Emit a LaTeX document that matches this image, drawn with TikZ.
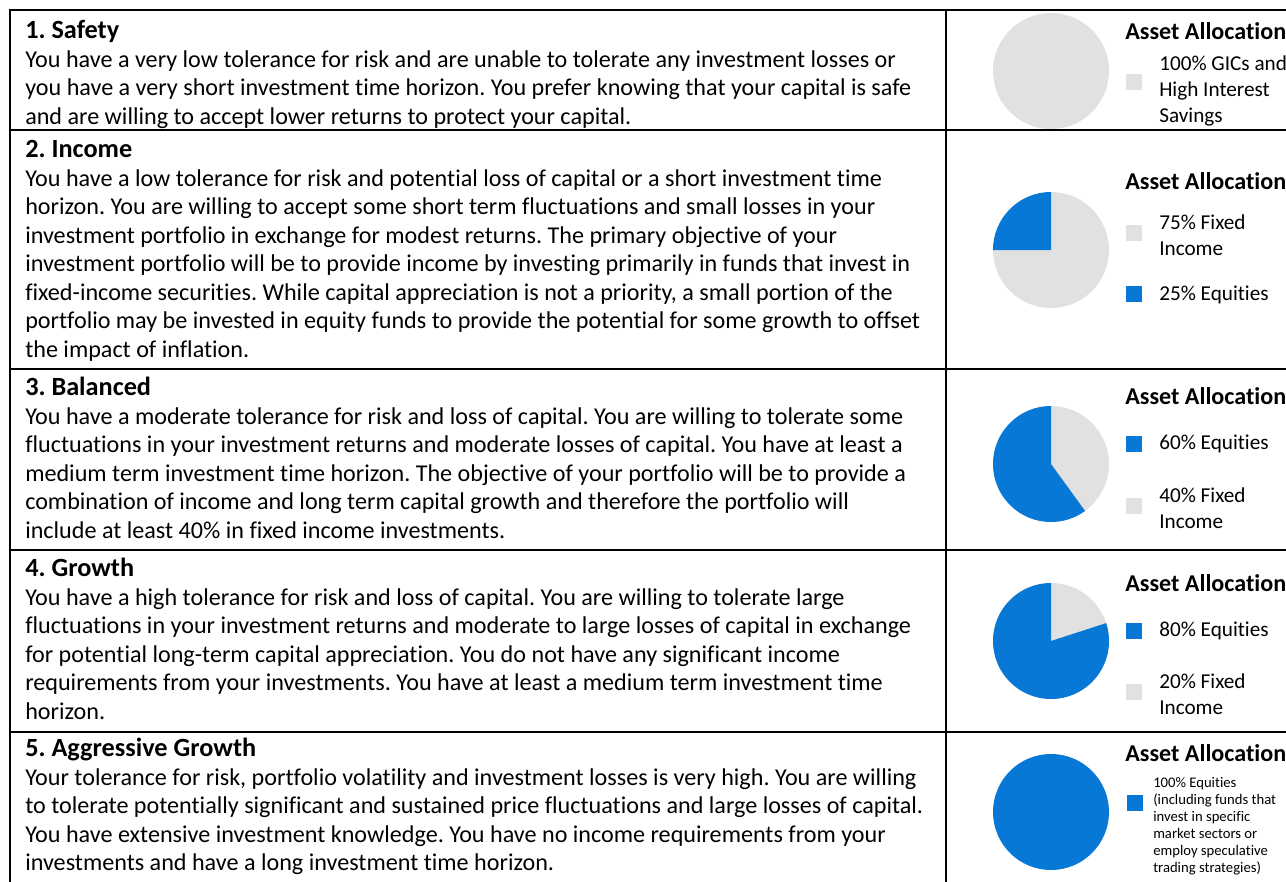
\documentclass[tikz,border=0pt]{standalone}
\usepackage{fontspec}
\setmainfont[RawFeature={-liga;-clig}]{Carlito}
\frenchspacing
\definecolor{eqblue}{RGB}{8,120,214}
\definecolor{fxgray}{RGB}{225,225,225}
\newcommand{\rowtitle}[1]{{\bfseries\fontsize{19.7}{21.4}\selectfont #1}}
\tikzset{
  rowtext/.style={anchor=north west,inner sep=0pt,align=left,font=\fontsize{18.1}{21.4}\selectfont},
  legtitle/.style={anchor=west,inner sep=0pt,font=\bfseries\fontsize{18.1}{20}\selectfont},
  legtext/.style={anchor=west,inner sep=0pt,align=left,font=\fontsize{15.9}{19.3}\selectfont},
  legsmall/.style={anchor=west,inner sep=0pt,align=left,font=\fontsize{11}{12.75}\selectfont},
  swatch/.style={minimum size=12pt,inner sep=0pt},
  rule/.style={line width=1.5pt},
}
\begin{document}
\begin{tikzpicture}[x=0.75pt,y=0.75pt]
        \useasboundingbox (0,0) rectangle (1286,-882);
        %% Table
        \draw[rule] (1286,-10) to (10,-10) to (10,-882);
        \draw[rule] (946,-10) to (946,-882);
        \foreach \y in {130,369,550,732}
            \draw[rule] (10,-\y) to (1286,-\y);
        %% Row 1
        \node[rowtext] (safety) at (25,-20) {\rowtitle{1. Safety}\\
            You have a very low tolerance for risk and are unable to tolerate any investment losses or\\
            you have a very short investment time horizon. You prefer knowing that your capital is safe\\
            and are willing to accept lower returns to protect your capital.};
        \coordinate (P1) at (1051,-71);
        \fill[fxgray] (P1) circle[radius=58];
        \node[legtitle] (AA1) at (1125,-31) {Asset Allocation};
        \node[swatch,fill=fxgray] (S1a) at (1134,-82) {};
        \node[legtext] (L1a) at (1159,-91) {100\% GICs and\\High Interest\\Savings};
        %% Row 2
        \node[rowtext] (income) at (25,-140) {\rowtitle{2. Income}\\
            You have a low tolerance for risk and potential loss of capital or a short investment time\\
            horizon. You are willing to accept some short term fluctuations and small losses in your\\
            investment portfolio in exchange for modest returns. The primary objective of your\\
            investment portfolio will be to provide income by investing primarily in funds that invest in\\
            fixed-income securities. While capital appreciation is not a priority, a small portion of the\\
            portfolio may be invested in equity funds to provide the potential for some growth to offset\\
            the impact of inflation.};
        \coordinate (P2) at (1051,-250);
        \fill[fxgray] (P2) circle[radius=58];
        \fill[eqblue] (P2) -- ++(90:58) arc[start angle=90,end angle=180,radius=58] -- cycle;
        \node[legtitle] (AA2) at (1125,-181) {Asset Allocation};
        \node[swatch,fill=fxgray] (S2a) at (1134,-233) {};
        \node[legtext] (L2a) at (1159,-235) {75\% Fixed\\Income};
        \node[swatch,fill=eqblue] (S2b) at (1134,-294) {};
        \node[legtext] (L2b) at (1159,-295) {25\% Equities};
        %% Row 3
        \node[rowtext] (balanced) at (25,-377) {\rowtitle{3. Balanced}\\
            You have a moderate tolerance for risk and loss of capital. You are willing to tolerate some\\
            fluctuations in your investment returns and moderate losses of capital. You have at least a\\
            medium term investment time horizon. The objective of your portfolio will be to provide a\\
            combination of income and long term capital growth and therefore the portfolio will\\
            include at least 40\% in fixed income investments.};
        \coordinate (P3) at (1051,-464);
        \fill[fxgray] (P3) circle[radius=58];
        \fill[eqblue] (P3) -- ++(90:58) arc[start angle=90,end angle=306,radius=58] -- cycle;
        \node[legtitle] (AA3) at (1125,-396) {Asset Allocation};
        \node[swatch,fill=eqblue] (S3a) at (1134,-444) {};
        \node[legtext] (L3a) at (1159,-444) {60\% Equities};
        \node[swatch,fill=fxgray] (S3b) at (1134,-506) {};
        \node[legtext] (L3b) at (1159,-508) {40\% Fixed\\Income};
        %% Row 4
        \node[rowtext] (growth) at (25,-558) {\rowtitle{4. Growth}\\
            You have a high tolerance for risk and loss of capital. You are willing to tolerate large\\
            fluctuations in your investment returns and moderate to large losses of capital in exchange\\
            for potential long-term capital appreciation. You do not have any significant income\\
            requirements from your investments. You have at least a medium term investment time\\
            horizon.};
        \coordinate (P4) at (1051,-641);
        \fill[fxgray] (P4) circle[radius=58];
        \fill[eqblue] (P4) -- ++(90:58) arc[start angle=90,end angle=378,radius=58] -- cycle;
        \node[legtitle] (AA4) at (1125,-583) {Asset Allocation};
        \node[swatch,fill=eqblue] (S4a) at (1134,-631) {};
        \node[legtext] (L4a) at (1159,-631) {80\% Equities};
        \node[swatch,fill=fxgray] (S4b) at (1134,-692) {};
        \node[legtext] (L4b) at (1159,-694) {20\% Fixed\\Income};
        %% Row 5
        \node[rowtext] (aggressive) at (25,-738) {\rowtitle{5. Aggressive Growth}\\
            Your tolerance for risk, portfolio volatility and investment losses is very high. You are willing\\
            to tolerate potentially significant and sustained price fluctuations and large losses of capital.\\
            You have extensive investment knowledge. You have no income requirements from your\\
            investments and have a long investment time horizon.};
        \coordinate (P5) at (1051,-812);
        \fill[eqblue] (P5) circle[radius=58];
        \node[legtitle] (AA5) at (1125,-753) {Asset Allocation};
        \node[swatch,fill=eqblue] (S5a) at (1135,-803) {};
        \node[legsmall] (L5a) at (1153,-826) {100\% Equities\\(including funds that\\invest in specific\\market sectors or\\employ speculative\\trading strategies)};
    \end{tikzpicture}
\end{document}
